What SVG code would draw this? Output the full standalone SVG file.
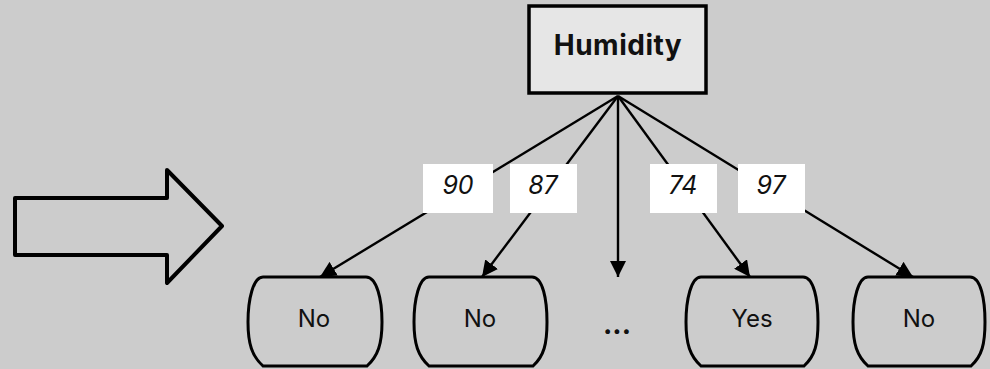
<svg xmlns="http://www.w3.org/2000/svg" width="990" height="369" viewBox="0 0 990 369">
  <defs>
    <marker id="tip" viewBox="0 0 10 10" refX="10" refY="5" markerWidth="16" markerHeight="16" markerUnits="userSpaceOnUse" orient="auto">
      <path d="M0,0 L10,5 L0,10 Z" fill="#000"/>
    </marker>
    <style>
      .edge { stroke: #000; stroke-width: 2.4; fill: none; marker-end: url(#tip); }
      .leaf { fill: none; stroke: #000; stroke-width: 3; }
      .leaf-text { font-family: "Inter", "Liberation Sans", sans-serif; font-size: 24px; fill: #111; text-anchor: middle; }
      .lbl-box { fill: #fff; }
      .lbl-text { font-family: "Inter", "Liberation Sans", sans-serif; font-size: 25px; font-style: italic; fill: #111; text-anchor: middle; }
    </style>
  </defs>
  <rect x="0" y="0" width="990" height="369" fill="#cccccc"/>

  <!-- big block arrow on the left -->
  <path d="M15,198 L167,198 L167,170 L222,226 L167,283 L167,255 L15,255 Z" fill="none" stroke="#000" stroke-width="4" stroke-linejoin="round"/>

  <!-- connectors -->
  <g id="connectors">
    <line class="edge" x1="618" y1="96" x2="320" y2="277"/>
    <line class="edge" x1="618" y1="96" x2="482" y2="277"/>
    <line class="edge" x1="618" y1="96" x2="618" y2="277"/>
    <line class="edge" x1="618" y1="96" x2="750" y2="277"/>
    <line class="edge" x1="618" y1="96" x2="913" y2="277"/>
    <g id="edge-labels">
      <rect class="lbl-box" x="423" y="164" width="70" height="49"/>
      <text class="lbl-text" x="458" y="194">90</text>
      <rect class="lbl-box" x="510" y="164" width="67" height="49"/>
      <text class="lbl-text" x="543" y="194">87</text>
      <rect class="lbl-box" x="650" y="164" width="67" height="49"/>
      <text class="lbl-text" x="683" y="194">74</text>
      <rect class="lbl-box" x="738" y="164" width="67" height="49"/>
      <text class="lbl-text" x="771" y="194">97</text>
    </g>
  </g>

  <!-- root node -->
  <g id="humidity">
    <rect x="529" y="6" width="177" height="87" fill="#e6e6e6" stroke="#000" stroke-width="3.5"/>
    <text x="618" y="55" font-family="Inter, 'Liberation Sans', sans-serif" font-size="28" font-weight="700" letter-spacing="0.5" fill="#111" text-anchor="middle">Humidity</text>
  </g>

  <!-- leaf nodes -->
  <g id="leaf-no-1">
    <path class="leaf" d="M263,277 L366,277 C377,277 382,300 382,322 C382,344 378,356 367,366 L263,366 C252,356 248,344 248,322 C248,300 253,277 263,277 Z"/>
    <text class="leaf-text" x="314" y="327">No</text>
  </g>
  <g id="leaf-no-2">
    <path class="leaf" d="M429,277 L532,277 C543,277 547,300 547,322 C547,344 544,356 533,366 L429,366 C418,356 414,344 414,322 C414,300 419,277 429,277 Z"/>
    <text class="leaf-text" x="480" y="327">No</text>
  </g>
  <g id="leaf-more">
    <text x="617" y="334" font-family="Inter, 'Liberation Sans', sans-serif" font-size="28" font-weight="700" fill="#111" text-anchor="middle">...</text>
  </g>
  <g id="leaf-yes">
    <path class="leaf" d="M701,277 L803,277 C814,277 818,300 818,322 C818,344 815,356 804,366 L701,366 C690,356 686,344 686,322 C686,300 691,277 701,277 Z"/>
    <text class="leaf-text" x="752" y="327">Yes</text>
  </g>
  <g id="leaf-no-3">
    <path class="leaf" d="M868,277 L970,277 C981,277 985,300 985,322 C985,344 982,356 971,366 L868,366 C857,356 853,344 853,322 C853,300 858,277 868,277 Z"/>
    <text class="leaf-text" x="919" y="327">No</text>
  </g>
</svg>
